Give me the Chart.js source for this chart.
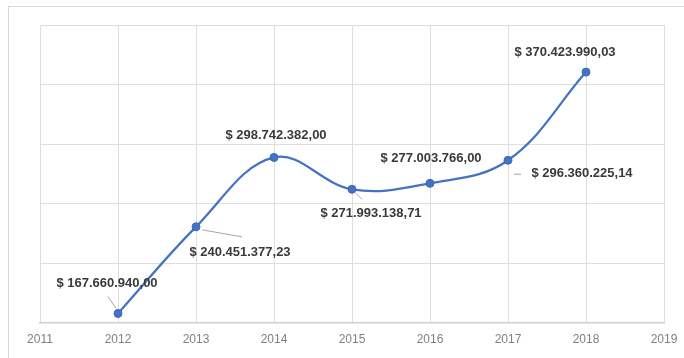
<!DOCTYPE html>
<html lang="es">
<head>
  <meta charset="UTF-8">
  <title>Ventas por año</title>
  <style>
    html, body {
      margin: 0;
      padding: 0;
      background: #ffffff;
      overflow: hidden;
    }

    #frame {
      position: absolute;
      left: 8px;
      top: 6px;
      width: 690px;
      height: 370px;
      border: 1px solid #d9d9d9;
    }

    #wrap {
      position: absolute;
      left: 0;
      top: 0;
      width: 684px;
      height: 358px;
    }
  </style>
</head>
<body>
  <div id="frame"></div>
  <div id="wrap"><canvas id="chart" width="684" height="358"></canvas></div>

  <script src="https://cdn.jsdelivr.net/npm/chart.js"></script>
  <script>
    // yearly totals
    const years = [2012, 2013, 2014, 2015, 2016, 2017, 2018];
    const totals = [167660940.00, 240451377.23, 298742382.00, 271993138.71, 277003766.00, 296360225.14, 370423990.03];
    const yearTicks = [2011, 2012, 2013, 2014, 2015, 2016, 2017, 2018, 2019];

    // label placement relative to each point: [dx, dy] of the text centre
    const labelOffsets = [[-11, -30], [44, 26], [2, -22], [19, 24], [1, -25], [74, 13], [-21, -20]];
    // leader lines: [x1, y1, x2, y2] relative to the point, or null
    const leaders = [[-2, -5, -10, -17], [6, 3, 46, 10], null, [4, 4, 10, 10], null, [6, 14, 13, 14], null];

    function money(v) {
      const parts = v.toFixed(2).split('.');
      const intPart = parts[0].replace(/\B(?=(\d{3})+(?!\d))/g, '.');
      return '$ ' + intPart + ',' + parts[1];
    }

    const valueLabels = {
      id: 'valueLabels',
      afterDatasetsDraw(chart) {
        const ctx = chart.ctx;
        const meta = chart.getDatasetMeta(0);
        ctx.save();
        meta.data.forEach((pt, i) => {
          const l = leaders[i];
          if (l) {
            ctx.strokeStyle = '#a6a6a6';
            ctx.lineWidth = 1;
            ctx.beginPath();
            ctx.moveTo(pt.x + l[0], pt.y + l[1]);
            ctx.lineTo(pt.x + l[2], pt.y + l[3]);
            ctx.stroke();
          }
          const off = labelOffsets[i];
          ctx.font = 'bold 13px "Liberation Sans", Arial, sans-serif';
          ctx.fillStyle = '#3a3a3a';
          ctx.textAlign = 'center';
          ctx.textBaseline = 'middle';
          ctx.fillText(money(totals[i]), pt.x + off[0], pt.y + off[1]);
        });
        ctx.restore();
      }
    };

    const ctx = document.getElementById('chart').getContext('2d');
    const chart = new Chart(ctx, {
      type: 'line',
      data: {
        datasets: [{
          data: years.map((y, i) => ({ x: y, y: totals[i] })),
          borderColor: '#4472c4',
          backgroundColor: '#4472c4',
          borderWidth: 2.25,
          pointRadius: 4,
          pointBorderWidth: 1,
          pointBorderColor: '#3f69b5',
          tension: 0.38,
          fill: false
        }]
      },
      options: {
        responsive: false,
        animation: false,
        layout: {
          padding: { left: 40, top: 25, right: 20, bottom: 1 }
        },
        plugins: {
          legend: { display: false },
          tooltip: { enabled: false }
        },
        scales: {
          x: {
            type: 'linear',
            min: 2011,
            max: 2019,
            afterBuildTicks(axis) {
              axis.ticks = yearTicks.map(v => ({ value: v }));
            },
            afterFit(axis) {
              // edge labels fit inside the outer padding already
              axis.paddingLeft = 0;
              axis.paddingRight = 0;
            },
            ticks: {
              callback: v => String(v),
              color: '#808080',
              font: { family: '"Liberation Sans", Arial, sans-serif', size: 12 },
              padding: 10,
              maxRotation: 0
            },
            grid: { color: '#dedede', drawTicks: false },
            border: { color: '#cfcfcf', width: 1.5 }
          },
          y: {
            min: 160000000,
            max: 410000000,
            ticks: { display: false, stepSize: 50000000 },
            grid: { color: '#dedede', drawTicks: false },
            border: { display: false }
          }
        }
      },
      plugins: [valueLabels]
    });
  </script>
</body>
</html>
